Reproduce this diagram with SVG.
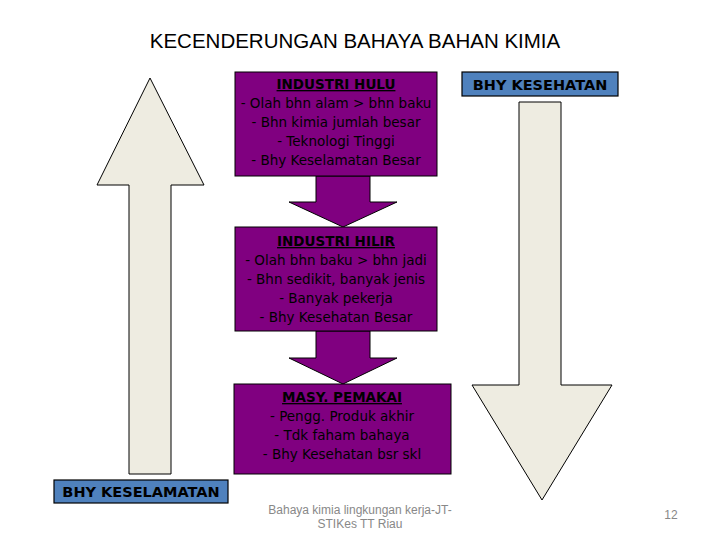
<svg xmlns="http://www.w3.org/2000/svg" width="720" height="540" viewBox="0 0 720 540">
<style>
.box{fill:#800080;stroke:#000;stroke-width:1}
.bt{font-family:"DejaVu Sans",sans-serif;font-size:13.5px;fill:#000;text-anchor:middle}
.hd{font-weight:bold;text-decoration:underline}
.lbl{fill:#4F81BD;stroke:#000;stroke-width:1.2}
.lt{font-family:"DejaVu Sans",sans-serif;font-weight:bold;font-size:14.5px;text-anchor:middle}
.big{fill:#EEECE1;stroke:#000;stroke-width:1}
</style>
<rect width="720" height="540" fill="#fff"/>
<text x="355" y="48" font-family="Liberation Sans,sans-serif" font-size="20.5" text-anchor="middle">KECENDERUNGAN BAHAYA BAHAN KIMIA</text>
<g id="connectors">
<polygon class="box" points="316,176 370,176 370,202 397,202 343,227 289,202 316,202"/>
<polygon class="box" points="316,331 370,331 370,358 397,358 343,384 289,358 316,358"/>
</g>
<g id="up-arrow"><polygon class="big" points="150,78 204,185 171,185 171,474 129,474 129,185 97,185"/></g>
<g id="down-arrow"><polygon class="big" points="519,102 561,102 561,385 612,385 542,500 472,385 519,385"/></g>
<g id="hulu">
<rect class="box" x="235" y="72" width="202" height="104"/>
<text class="bt" x="336" y="89"><tspan class="hd">INDUSTRI HULU</tspan><tspan x="336" dy="19">- Olah bhn alam &gt; bhn baku</tspan><tspan x="336" dy="19">- Bhn kimia jumlah besar</tspan><tspan x="336" dy="19">- Teknologi Tinggi</tspan><tspan x="336" dy="19">- Bhy Keselamatan Besar</tspan></text>
</g>
<g id="hilir">
<rect class="box" x="235" y="227" width="202" height="104"/>
<text class="bt" x="336" y="246"><tspan class="hd">INDUSTRI HILIR</tspan><tspan x="336" dy="19">- Olah bhn baku &gt; bhn jadi</tspan><tspan x="336" dy="19">- Bhn sedikit, banyak jenis</tspan><tspan x="336" dy="19">- Banyak pekerja</tspan><tspan x="336" dy="19">- Bhy Kesehatan Besar</tspan></text>
</g>
<g id="pemakai">
<rect class="box" x="234" y="384" width="217" height="90"/>
<text class="bt" x="342" y="402"><tspan class="hd">MASY. PEMAKAI</tspan><tspan x="342" dy="19">- Pengg. Produk akhir</tspan><tspan x="342" dy="19">- Tdk faham bahaya</tspan><tspan x="342" dy="19">- Bhy Kesehatan bsr skl</tspan></text>
</g>
<g id="kesehatan"><rect class="lbl" x="462" y="72" width="156" height="24"/><text class="lt" x="540" y="90">BHY KESEHATAN</text></g>
<g id="keselamatan"><rect class="lbl" x="54" y="480" width="174" height="23"/><text class="lt" x="141" y="497">BHY KESELAMATAN</text></g>
<text x="360" y="514" font-family="Liberation Sans,sans-serif" font-size="12" fill="#888" text-anchor="middle">Bahaya kimia lingkungan kerja-JT-</text>
<text x="360" y="528" font-family="Liberation Sans,sans-serif" font-size="12" fill="#888" text-anchor="middle">STIKes TT Riau</text>
<text x="671" y="519" font-family="Liberation Sans,sans-serif" font-size="12" fill="#888" text-anchor="middle">12</text>
</svg>
